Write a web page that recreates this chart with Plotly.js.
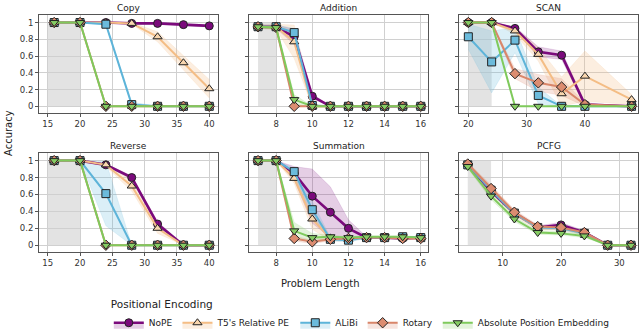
<!DOCTYPE html>
<html>
<head>
<meta charset="utf-8">
<script src="https://cdn.plot.ly/plotly-3.0.1.min.js"></script>
<style>
  body { margin: 0; background: #fff; }
  #plotArea { width: 640px; height: 331px; }
</style>
</head>
<body>
<div id="plotArea"></div>
<script>
// series names, in drawing order
var names = ['NoPE', "T5's Relative PE", 'ALiBi', 'Rotary', 'Absolute Position Embedding'];

// Copy
var copyX = [16, 20, 24, 28, 32, 36, 40];
var copyNoPE = [1, 1, 1, 0.99, 0.99, 0.975, 0.96];
var copyT5 = [1, 1, 1, 0.99, 0.83, 0.52, 0.21];
var copyAlibi = [1, 1, 0.98, 0.02, 0, 0, 0];
var copyRotary = [1, 1, 0, 0, 0, 0, 0];
var copyAbs = [1, 1, 0, 0, 0, 0, 0];
var copyNoPEErr = [0, 0, 0, 0.01, 0.01, 0.01, 0.015];
var copyT5Err = [0, 0, 0, 0.01, 0.06, 0.08, 0.11];
var copyAlibiErr = [0, 0, 0.01, 0.03, 0, 0, 0];
var copyRotaryErr = [0, 0, 0, 0, 0, 0, 0];
var copyAbsErr = [0, 0, 0, 0, 0, 0, 0];

// Addition
var addX = [7, 8, 9, 10, 11, 12, 13, 14, 15, 16];
var addNoPE = [0.95, 0.95, 0.83, 0.12, 0, 0, 0, 0, 0, 0];
var addT5 = [0.95, 0.95, 0.77, 0, 0, 0, 0, 0, 0, 0];
var addAlibi = [0.95, 0.95, 0.88, 0.01, 0, 0, 0, 0, 0, 0];
var addRotary = [0.95, 0.94, 0, 0, 0, 0, 0, 0, 0, 0];
var addAbs = [0.95, 0.94, 0.08, 0, 0, 0, 0, 0, 0, 0];
var addNoPEErr = [0.02, 0.02, 0.09, 0.03, 0, 0, 0, 0, 0, 0];
var addT5Err = [0.02, 0.03, 0.2, 0.02, 0, 0, 0, 0, 0, 0];
var addAlibiErr = [0.02, 0.02, 0.05, 0.01, 0, 0, 0, 0, 0, 0];
var addRotaryErr = [0.02, 0.02, 0.02, 0, 0, 0, 0, 0, 0, 0];
var addAbsErr = [0.02, 0.02, 0.06, 0, 0, 0, 0, 0, 0, 0];

// SCAN
var scanX = [20, 24, 28, 32, 36, 40, 48];
var scanNoPE = [1, 1, 0.93, 0.65, 0.61, 0.02, 0];
var scanT5 = [1, 1, 0.9, 0.62, 0.15, 0.36, 0.08];
var scanAlibi = [0.83, 0.53, 0.79, 0.13, 0, 0, 0];
var scanRotary = [1, 1, 0.39, 0.28, 0.23, 0.02, 0];
var scanAbs = [1, 1, 0, 0, 0, 0, 0];
var scanNoPEErr = [0, 0, 0.02, 0.06, 0.05, 0.02, 0];
var scanT5Err = [0, 0, 0.04, 0.08, 0.2, 0.3, 0.06];
var scanAlibiErr = [0.15, 0.37, 0.15, 0.1, 0, 0, 0];
var scanRotaryErr = [0, 0, 0.06, 0.1, 0.1, 0.02, 0];
var scanAbsErr = [0, 0, 0, 0, 0, 0, 0];

// Reverse
var revX = [16, 20, 24, 28, 32, 36, 40];
var revNoPE = [1, 1, 0.95, 0.8, 0.25, 0, 0];
var revT5 = [1, 1, 0.95, 0.7, 0.2, 0, 0];
var revAlibi = [1, 1, 0.61, 0, 0, 0, 0];
var revRotary = [1, 1, 0, 0, 0, 0, 0];
var revAbs = [1, 1, 0, 0, 0, 0, 0];
var revNoPEErr = [0, 0, 0.01, 0.02, 0.03, 0, 0];
var revT5Err = [0, 0, 0.02, 0.06, 0.06, 0, 0];
var revAlibiErr = [0, 0, 0.38, 0, 0, 0, 0];
var revRotaryErr = [0, 0, 0, 0, 0, 0, 0];
var revAbsErr = [0, 0, 0, 0, 0, 0, 0];

// Summation
var sumX = [7, 8, 9, 10, 11, 12, 13, 14, 15, 16];
var sumNoPE = [1, 1, 0.85, 0.58, 0.39, 0.2, 0.09, 0.09, 0.08, 0.09];
var sumT5 = [1, 1, 0.79, 0.31, 0.08, 0.07, 0.09, 0.09, 0.09, 0.09];
var sumAlibi = [1, 1, 0.87, 0.42, 0.07, 0.06, 0.09, 0.09, 0.1, 0.09];
var sumRotary = [1, 1, 0.08, 0.04, 0.07, 0.08, 0.09, 0.09, 0.08, 0.08];
var sumAbs = [1, 1, 0.17, 0.09, 0.1, 0.09, 0.1, 0.1, 0.1, 0.09];
var sumNoPEErr = [0, 0, 0.08, 0.32, 0.3, 0.1, 0.01, 0.01, 0.01, 0.01];
var sumT5Err = [0, 0, 0.06, 0.12, 0.03, 0.02, 0.01, 0.01, 0.01, 0.01];
var sumAlibiErr = [0, 0, 0.04, 0.1, 0.02, 0.02, 0.01, 0.01, 0.01, 0.01];
var sumRotaryErr = [0, 0, 0.03, 0.02, 0.02, 0.01, 0.01, 0.01, 0.01, 0.01];
var sumAbsErr = [0, 0, 0.1, 0.05, 0.02, 0.01, 0.01, 0.01, 0.01, 0.01];

// PCFG
var pcfgX = [4, 8, 12, 16, 20, 24, 28, 32];
var pcfgNoPE = [0.95, 0.64, 0.38, 0.21, 0.24, 0.15, 0, 0];
var pcfgT5 = [0.96, 0.66, 0.38, 0.2, 0.2, 0.14, 0, 0];
var pcfgAlibi = [0.95, 0.65, 0.38, 0.21, 0.2, 0.14, 0, 0];
var pcfgRotary = [0.96, 0.67, 0.39, 0.22, 0.21, 0.15, 0, 0];
var pcfgAbs = [0.93, 0.58, 0.31, 0.15, 0.14, 0.11, 0, 0];
var pcfgNoPEErr = [0.02, 0.03, 0.02, 0.02, 0.03, 0.02, 0, 0];
var pcfgT5Err = [0.02, 0.04, 0.03, 0.02, 0.02, 0.02, 0, 0];
var pcfgAlibiErr = [0.02, 0.03, 0.02, 0.02, 0.02, 0.02, 0, 0];
var pcfgRotaryErr = [0.02, 0.04, 0.03, 0.02, 0.02, 0.02, 0, 0];
var pcfgAbsErr = [0.02, 0.04, 0.03, 0.02, 0.02, 0.02, 0, 0];

var lineColors = ['#7b0a7c', '#f4bd85', '#5db4d9', '#d9866a', '#7fca5c'];
var markerColors = ['#7b0a7c', '#f9d6ae', '#6bbbdc', '#dc8c70', '#86cc64'];
var bandColors = ['rgba(123,10,124,0.2)', 'rgba(244,189,133,0.25)', 'rgba(93,180,217,0.22)',
                  'rgba(217,134,106,0.22)', 'rgba(127,202,92,0.22)'];
var symbols = ['circle', 'triangle-up', 'square', 'diamond', 'triangle-down'];
var lineWidths = [2.6, 2, 2, 2, 2];

var tasks = [
  {title: 'Copy', x: copyX, ys: [copyNoPE, copyT5, copyAlibi, copyRotary, copyAbs],
   errs: [copyNoPEErr, copyT5Err, copyAlibiErr, copyRotaryErr, copyAbsErr], train: [15, 20]},
  {title: 'Addition', x: addX, ys: [addNoPE, addT5, addAlibi, addRotary, addAbs],
   errs: [addNoPEErr, addT5Err, addAlibiErr, addRotaryErr, addAbsErr], train: [7, 8]},
  {title: 'SCAN', x: scanX, ys: [scanNoPE, scanT5, scanAlibi, scanRotary, scanAbs],
   errs: [scanNoPEErr, scanT5Err, scanAlibiErr, scanRotaryErr, scanAbsErr], train: [20, 24]},
  {title: 'Reverse', x: revX, ys: [revNoPE, revT5, revAlibi, revRotary, revAbs],
   errs: [revNoPEErr, revT5Err, revAlibiErr, revRotaryErr, revAbsErr], train: [15, 20]},
  {title: 'Summation', x: sumX, ys: [sumNoPE, sumT5, sumAlibi, sumRotary, sumAbs],
   errs: [sumNoPEErr, sumT5Err, sumAlibiErr, sumRotaryErr, sumAbsErr], train: [7, 8]},
  {title: 'PCFG', x: pcfgX, ys: [pcfgNoPE, pcfgT5, pcfgAlibi, pcfgRotary, pcfgAbs],
   errs: [pcfgNoPEErr, pcfgT5Err, pcfgAlibiErr, pcfgRotaryErr, pcfgAbsErr], train: [4, 8]}
];

var xRanges = [[13.65, 41.35], [6.5, 16.4], [18.4, 49.1], [13.65, 41.35], [6.5, 16.4], [2.5, 33.2]];
var xTicks = [[15, 20, 25, 30, 35, 40], [8, 10, 12, 14, 16], [20, 30, 40],
              [15, 20, 25, 30, 35, 40], [8, 10, 12, 14, 16], [10, 20, 30]];
var colDomains = [[39 / 640, 218 / 640], [249 / 640, 428 / 640], [459 / 640, 638 / 640]];
var rowDomains = [[218 / 331, 316 / 331], [79 / 331, 178 / 331]];

var font = 'DejaVu Sans, sans-serif';
var data = [];
var layout = {
  width: 640, height: 331, autosize: false,
  margin: {l: 0, r: 0, t: 0, b: 0, autoexpand: false},
  paper_bgcolor: '#fff', plot_bgcolor: '#fff',
  font: {family: font, size: 10, color: '#222'},
  showlegend: true,
  legend: {
    orientation: 'h', x: 0.17, xanchor: 'left', y: 0.11, yanchor: 'top',
    font: {size: 9, color: '#222'},
    title: {text: 'Positional Encoding', side: 'top', font: {size: 10.5, color: '#222'}},
    itemwidth: 30, tracegroupgap: 0, bgcolor: 'rgba(0,0,0,0)',
    borderwidth: 0
  },
  shapes: [], annotations: []
};

tasks.forEach(function (t, k) {
  var ax = k === 0 ? '' : String(k + 1);
  var row = Math.floor(k / 3), col = k % 3;
  layout['xaxis' + ax] = {
    domain: colDomains[col], anchor: 'y' + ax, range: xRanges[k],
    tickvals: xTicks[k], showgrid: true, gridcolor: '#d0d0d0', gridwidth: 1,
    showline: true, mirror: true, linecolor: '#555', linewidth: 1,
    zeroline: false, ticks: 'outside', ticklen: 3, tickcolor: '#555',
    tickfont: {size: 8.5, color: '#333'}
  };
  layout['yaxis' + ax] = {
    domain: rowDomains[row], anchor: 'x' + ax, range: [-0.08, 1.09],
    tickvals: [0, 0.2, 0.4, 0.6, 0.8, 1], ticktext: ['0', '0.2', '0.4', '0.6', '0.8', '1'],
    showticklabels: col === 0, showgrid: true, gridcolor: '#d0d0d0', gridwidth: 1,
    showline: true, mirror: true, linecolor: '#555', linewidth: 1,
    zeroline: false, ticks: 'outside', ticklen: 3, tickcolor: '#555',
    tickfont: {size: 8.5, color: '#333'}
  };
  // training range shading
  layout.shapes.push({
    type: 'rect', xref: 'x' + ax, yref: 'y' + ax, layer: 'below',
    x0: t.train[0], x1: t.train[1], y0: 0, y1: 1,
    fillcolor: '#e3e3e3', line: {width: 0}
  });
  layout.annotations.push({
    text: t.title, xref: 'x' + ax + ' domain', yref: 'y' + ax + ' domain',
    x: 0.5, y: 1, xanchor: 'center', yanchor: 'bottom', yshift: 0,
    showarrow: false, font: {size: 9, color: '#222'}
  });

  // bands first
  t.ys.forEach(function (ys, s) {
    var err = t.errs[s];
    var lo = ys.map(function (v, i) { return Math.max(0, v - err[i]); });
    var hi = ys.map(function (v, i) { return Math.min(1, v + err[i]); });
    data.push({
      x: t.x.concat(t.x.slice().reverse()),
      y: hi.concat(lo.slice().reverse()),
      xaxis: 'x' + ax, yaxis: 'y' + ax,
      type: 'scatter', mode: 'lines', fill: 'toself',
      fillcolor: bandColors[s], line: {color: bandColors[s], width: 0.6},
      hoverinfo: 'skip', showlegend: false, legendgroup: names[s]
    });
  });
  // mean lines
  t.ys.forEach(function (ys, s) {
    data.push({
      x: t.x, y: ys, xaxis: 'x' + ax, yaxis: 'y' + ax,
      type: 'scatter', mode: 'lines+markers', name: names[s],
      line: {color: lineColors[s], width: lineWidths[s]},
      marker: {symbol: symbols[s], size: 8, color: markerColors[s], line: {color: '#222', width: 1}},
      showlegend: false, legendgroup: names[s]
    });
  });
});

// legend entries
names.forEach(function (n, s) {
  data.push({
    x: [null], y: [null], type: 'scatter', mode: 'lines+markers', name: n,
    fill: 'toself', fillcolor: bandColors[s],
    line: {color: lineColors[s], width: lineWidths[s]},
    marker: {symbol: symbols[s], size: 8, color: markerColors[s], line: {color: '#222', width: 1}},
    legendgroup: n, showlegend: true
  });
});

layout.annotations.push({
  text: 'Problem Length', xref: 'paper', yref: 'paper', x: 0.5, y: 48 / 331,
  xanchor: 'center', yanchor: 'middle', showarrow: false, font: {size: 10, color: '#222'}
});
layout.annotations.push({
  text: 'Accuracy', xref: 'paper', yref: 'paper', x: 8 / 640, y: 198 / 331,
  xanchor: 'center', yanchor: 'middle', textangle: -90, showarrow: false,
  font: {size: 10, color: '#222'}
});

Plotly.newPlot('plotArea', data, layout, {displayModeBar: false, staticPlot: true});
</script>
</body>
</html>
